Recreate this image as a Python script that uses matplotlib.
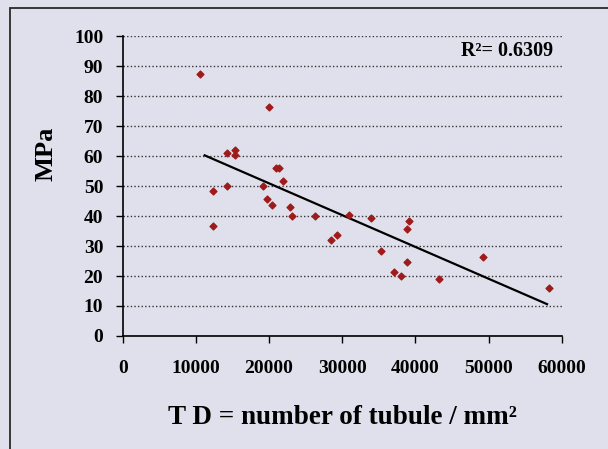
import numpy as np
import matplotlib.pyplot as plt
from matplotlib.patches import Rectangle

# tubule density (per mm2) vs strength (MPa)
td = [10500, 12300, 12400, 14300, 14300, 15300, 15300, 19200, 19750, 20000,
      20400, 21000, 21400, 21900, 22800, 23100, 26300, 28500, 29300, 31000,
      34000, 35300, 37100, 38100, 38800, 38900, 39100, 43300, 49200, 58200]
mpa = [87.5, 36.8, 48.2, 61.1, 50.1, 62.0, 60.4, 49.9, 45.6, 76.3,
       43.7, 56.0, 56.0, 51.8, 42.9, 40.0, 40.0, 31.9, 33.7, 40.2,
       39.4, 28.4, 21.4, 20.1, 35.7, 24.8, 38.2, 18.9, 26.3, 16.1]
# trend line as drawn in the picture
trend_slope = -0.00106
trend_intercept = 72.1
r2_text = 'R\u00b2= 0.6309'

xticks = [0, 10000, 20000, 30000, 40000, 50000, 60000]
yticks = list(range(0, 101, 10))

bg = '#dfe0eb'
plt.rcParams['font.family'] = ['Liberation Serif', 'DejaVu Serif']
plt.rcParams['font.weight'] = 'bold'

fig = plt.figure(figsize=(6.08, 4.49), dpi=100, facecolor=bg)
# outer frame (runs off the right and bottom edges)
fig.patches.append(Rectangle((10 / 608, -0.1), 1.2, 1 - 8 / 449 + 0.1,
                             transform=fig.transFigure, fill=False,
                             edgecolor='#2a2a2a', linewidth=1.3))

ax = fig.add_axes([0.2018, 0.2517, 0.722, 0.668])
ax.set_facecolor(bg)

xs = np.array([min(td) + 700, max(td) - 200])
ax.plot(xs, trend_slope * xs + trend_intercept, color='black', linewidth=1.6, zorder=2)

ax.scatter(td, mpa, marker='D', s=12, color='#9e1b1b', zorder=3)

ax.set_xlim(0, 60000)
ax.set_ylim(0, 100)
ax.set_xticks(xticks)
ax.set_yticks(yticks)
ax.grid(axis='y', linestyle=(0, (1, 1.6)), color='#333333', linewidth=1.0)
ax.set_axisbelow(True)

for s in ['top', 'right']:
    ax.spines[s].set_visible(False)
for s in ['left', 'bottom']:
    ax.spines[s].set_color('black')
    ax.spines[s].set_linewidth(1.2)

ax.tick_params(axis='y', direction='out', length=5, width=1, pad=9, labelsize=14)
ax.tick_params(axis='x', direction='out', length=5, width=1, pad=12, labelsize=14)
for lab in ax.get_xticklabels() + ax.get_yticklabels():
    lab.set_fontweight('bold')

ax.text(0.98, 0.95, r2_text, transform=ax.transAxes, ha='right', va='center',
        fontsize=14.5, fontweight='bold')

fig.text(46 / 608, 1 - 154 / 449, 'MPa', rotation=90, ha='center', va='center',
         fontsize=19, fontweight='bold')
fig.text(342 / 608, 1 - 418 / 449, 'T D = number of tubule / mm\u00b2',
         ha='center', va='center', fontsize=19.5, fontweight='bold')

fig.savefig('out.png', dpi=100, facecolor=bg)
